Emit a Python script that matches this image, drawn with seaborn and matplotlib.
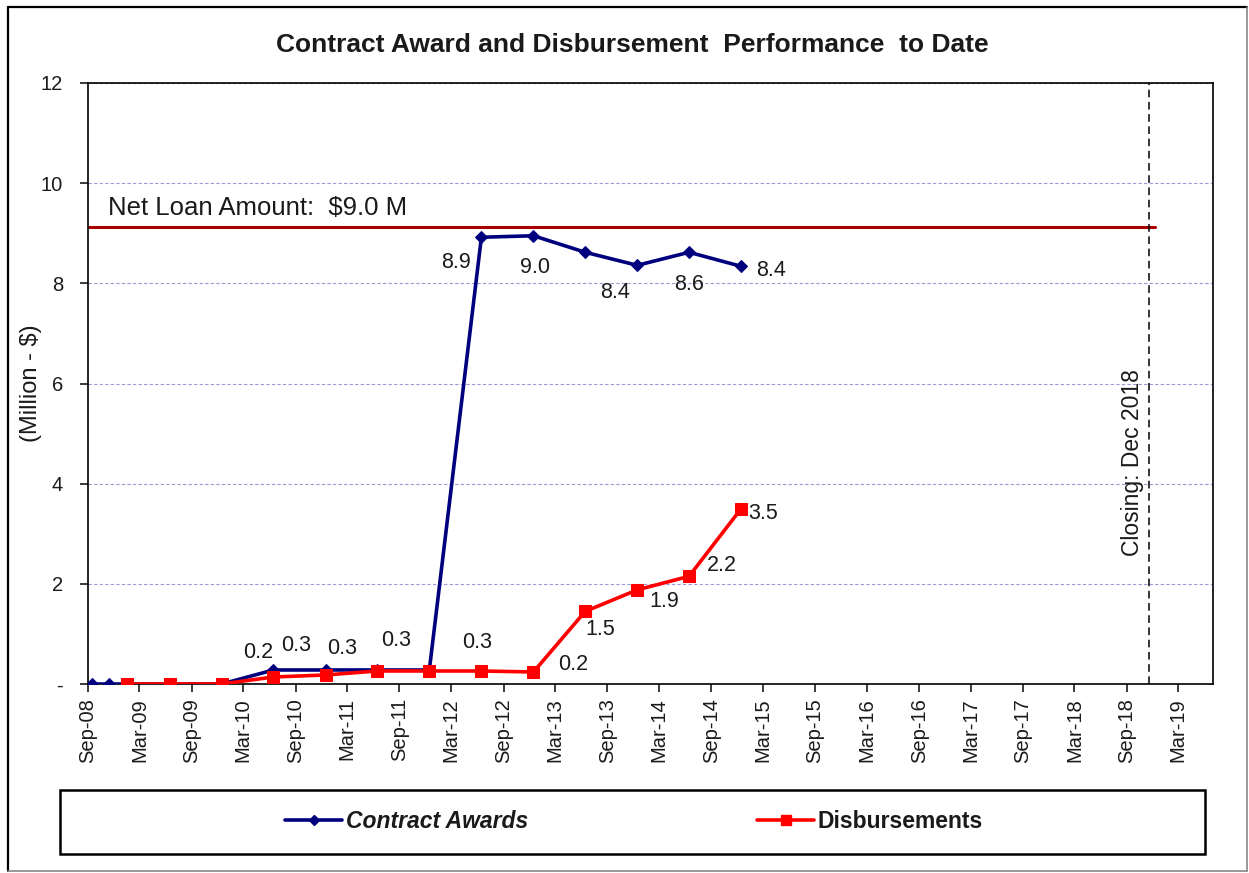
import numpy as np
import pandas as pd
import matplotlib
matplotlib.use("Agg")
from matplotlib import pyplot as plt
import matplotlib.dates as mdates
from matplotlib.lines import Line2D
from matplotlib.patches import Rectangle
import seaborn as sns

# Contract awards (cumulative, $ million)
award_dates = pd.to_datetime([
    "2008-09-15", "2008-11-15", "2009-01-15", "2009-06-15", "2009-12-15",
    "2010-06-15", "2010-12-15", "2011-06-15", "2011-12-15", "2012-06-15",
    "2012-12-15", "2013-06-15", "2013-12-15", "2014-06-15", "2014-12-15",
])
award_vals = [0, 0, 0, 0, 0, 0.28, 0.28, 0.28, 0.28, 8.92, 8.95, 8.62, 8.36, 8.62, 8.34]

# Disbursements (cumulative, $ million)
disb_dates = pd.to_datetime([
    "2009-01-15", "2009-06-15", "2009-12-15", "2010-06-15", "2010-12-15",
    "2011-06-15", "2011-12-15", "2012-06-15", "2012-12-15", "2013-06-15",
    "2013-12-15", "2014-06-15", "2014-12-15",
])
disb_vals = [0, 0, 0, 0.14, 0.18, 0.26, 0.26, 0.26, 0.24, 1.45, 1.88, 2.15, 3.5]

# data labels: (point index, text)
award_labels = [(5, "0.2"), (6, "0.3"), (7, "0.3"), (8, "0.3"),
                (9, "8.9"), (10, "9.0"), (12, "8.4"), (13, "8.6"), (14, "8.4")]
disb_labels = [(7, "0.3"), (8, "0.2"), (9, "1.5"), (10, "1.9"), (11, "2.2"), (12, "3.5")]
# label offsets in pixels
award_offsets = [(-15, 17), (-29, 24), (-35, 21), (-33, 29),
                 (-25, -25), (2, -32), (-22, -27), (0, -32), (30, -4)]
disb_offsets = [(-4, 28), (40, 7), (15, -18), (27, -12), (33, 11), (22, -5)]

net_loan = 9.12
closing_date = pd.Timestamp("2018-11-18")
x_start, x_end = pd.Timestamp("2008-09-01"), pd.Timestamp("2019-07-01")
y_ticks = [0, 2, 4, 6, 8, 10, 12]
y_ticklabels = ["-", "2", "4", "6", "8", "10", "12"]

sns.set_style("white")
plt.rcParams["font.family"] = ["Liberation Sans", "DejaVu Sans"]

W, H = 1249, 873
fig = plt.figure(figsize=(W / 100, H / 100), dpi=100)
ax = fig.add_axes([88 / W, 1 - 684 / H, (1213 - 88) / W, (684 - 83) / H])

blue = "#00007f"
red = "#ff0000"
ink = "#1a1a1a"

sns.lineplot(x=award_dates, y=award_vals, ax=ax, color=blue, lw=2.6,
             marker="D", markersize=6, markeredgecolor=blue, zorder=3)
sns.lineplot(x=disb_dates, y=disb_vals, ax=ax, color=red, lw=2.6,
             marker="s", markersize=8, markeredgecolor=red, zorder=4)

for (i, t), (dx, dy) in zip(award_labels, award_offsets):
    ax.annotate(t, (award_dates[i], award_vals[i]), xytext=(dx, dy),
                textcoords="offset pixels", ha="center", va="center",
                fontsize=15.5, color=ink)
for (i, t), (dx, dy) in zip(disb_labels, disb_offsets):
    ax.annotate(t, (disb_dates[i], disb_vals[i]), xytext=(dx, dy),
                textcoords="offset pixels", ha="center", va="center",
                fontsize=15.5, color=ink)

# net loan amount and closing date
ax.plot([x_start, closing_date + pd.Timedelta(days=20)], [net_loan, net_loan],
        color="#a80000", lw=2.2, zorder=2)
ax.text(pd.Timestamp("2008-11-10"), 9.36, "Net Loan Amount:  $9.0 M",
        fontsize=18.5, color=ink, va="baseline", ha="left")
ax.axvline(closing_date, color="black", ls=(0, (5, 3)), lw=1.1)
ax.text(pd.Timestamp("2018-09-20"), 4.43, "Closing: Dec 2018", rotation=90,
        fontsize=16.5, color=ink, ha="center", va="center")

ax.set_xlim(x_start, x_end)
ax.set_ylim(0, 12)
ax.set_yticks(y_ticks)
ax.set_yticklabels(y_ticklabels)
ax.xaxis.set_major_locator(mdates.MonthLocator(bymonth=(3, 9)))
ax.xaxis.set_major_formatter(mdates.DateFormatter("%b-%y"))
ax.tick_params(axis="x", rotation=90, labelsize=14.5, length=6, width=1.2,
               direction="out", pad=4, bottom=True, colors=ink)
ax.tick_params(axis="y", labelsize=14.5, length=6, width=1.2,
               direction="out", pad=12, left=True, colors=ink)
ax.set_xlabel("")
ax.set_ylabel("(Million - $)", fontsize=17, color=ink)
ax.yaxis.set_label_coords(-0.041, 0.5)

ax.grid(axis="y", color="#9a9ad8", ls=(0, (3, 2)), lw=0.8)
ax.grid(axis="x", visible=False)
for s in ax.spines.values():
    s.set_color("black")
    s.set_linewidth(1.2)

fig.text(632 / W, 1 - 45 / H, "Contract Award and Disbursement  Performance  to Date",
         ha="center", va="center", fontsize=19, fontweight="bold", color=ink)

# legend box
fig.add_artist(Rectangle((60 / W, 1 - 854 / H), (1205 - 60) / W, 64 / H,
                         transform=fig.transFigure, fill=False,
                         edgecolor="black", lw=1.8))
handles = [
    Line2D([], [], color=blue, lw=2.6, marker="D", markersize=5),
    Line2D([], [], color=red, lw=2.6, marker="s", markersize=7),
]
leg = fig.legend(handles, ["Contract Awards", "Disbursements"], loc="center",
                 bbox_to_anchor=(634 / W, 1 - 822 / H), ncol=2, frameon=False,
                 fontsize=16.5, handlelength=2.5, handletextpad=0.15,
                 columnspacing=10)
for t in leg.get_texts():
    t.set_fontweight("bold")
    t.set_color(ink)
leg.get_texts()[0].set_fontstyle("italic")

# outer chart frame
fig.add_artist(Line2D([8 / W, 8 / W], [1 - 871 / H, 1 - 7 / H], transform=fig.transFigure,
                      color="black", lw=1.6))
fig.add_artist(Line2D([8 / W, 1247 / W], [1 - 7 / H, 1 - 7 / H], transform=fig.transFigure,
                      color="black", lw=1.6))
fig.add_artist(Line2D([1247 / W, 1247 / W], [1 - 871 / H, 1 - 7 / H], transform=fig.transFigure,
                      color="#888888", lw=1.2))
fig.add_artist(Line2D([8 / W, 1247 / W], [1 - 871 / H, 1 - 871 / H], transform=fig.transFigure,
                      color="#888888", lw=1.2))

fig.savefig("out.png", dpi=100)
